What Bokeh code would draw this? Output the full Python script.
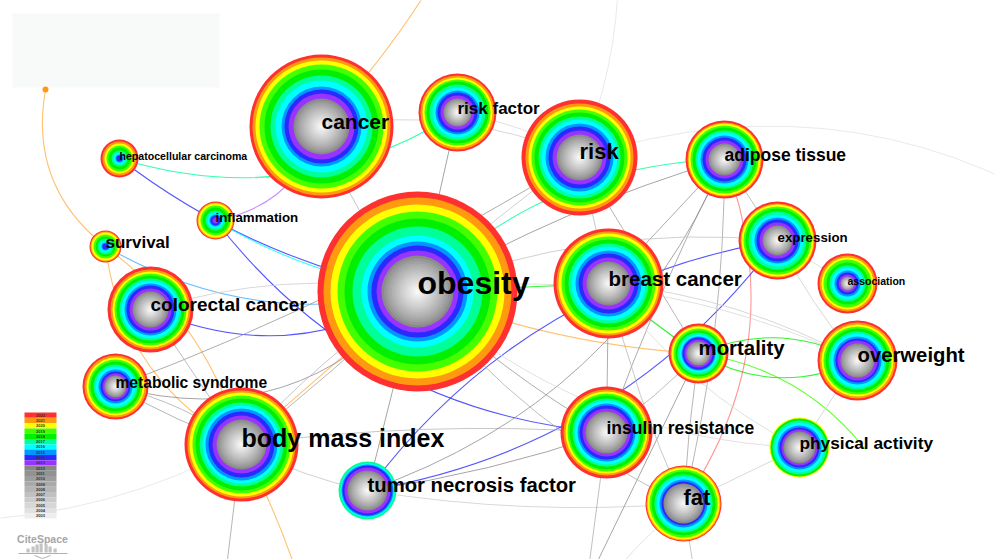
import math
from bokeh.plotting import figure
from bokeh.models import Range1d, ColumnDataSource
from bokeh.embed import file_html
from bokeh.resources import INLINE
from bokeh.core.properties import value

# ---------------- data ----------------
keywords = ["obesity", "cancer", "risk factor", "risk", "adipose tissue",
            "hepatocellular carcinoma", "inflammation", "survival", "colorectal cancer",
            "metabolic syndrome", "body mass index", "tumor necrosis factor", "breast cancer",
            "expression", "association", "mortality", "overweight", "insulin resistance",
            "physical activity", "fat"]
# network layout coordinates (CiteSpace layout space)
layout_x = [417, 321, 457, 579, 724, 119, 215, 105, 150, 115, 241, 367, 608, 777, 847, 698, 857, 606, 799, 683]
layout_y = [291, 126, 112, 157, 159, 158, 220, 246, 309, 386, 444, 490, 283, 240, 283, 353, 360, 432, 447, 503]

# yearly occurrence counts drawn as tree rings: [<=2012, 2013, 2014, ..., 2022]
ring_years = [2012, 2013, 2014, 2015, 2016, 2017, 2018, 2019, 2020, 2021, 2022]
yearly_counts = [
    [36, 5, 5, 4, 6, 9, 8, 7, 7, 7, 6],   # obesity
    [28, 5, 4, 3, 6, 5, 6, 5, 4, 3, 3],   # cancer
    [14, 3, 3, 2, 3, 3, 3, 2, 2, 2, 2],   # risk factor
    [23, 4, 4, 3, 4, 3, 4, 3, 3, 3, 4],   # risk
    [16, 3, 3, 2, 3, 2, 3, 2, 2, 1, 2],   # adipose tissue
    [0, 0, 3, 1, 2, 2, 3, 2, 2, 2, 2],    # hepatocellular carcinoma
    [0, 3, 2, 1, 2, 2, 3, 2, 2, 1, 1],    # inflammation
    [0, 0, 3, 1, 2, 2, 2, 2, 2, 1, 1],    # survival
    [18, 3, 3, 2, 3, 2, 3, 2, 2, 2, 3],   # colorectal cancer
    [11, 2, 2, 2, 3, 2, 3, 2, 2, 2, 2],   # metabolic syndrome
    [25, 4, 4, 3, 3, 3, 4, 3, 3, 2, 3],   # body mass index
    [20, 3, 2, 1, 1, 2, 0, 0, 0, 0, 0],   # tumor necrosis factor
    [22, 4, 4, 3, 4, 3, 4, 3, 3, 2, 3],   # breast cancer
    [15, 3, 3, 2, 3, 3, 3, 2, 2, 1, 2],   # expression
    [7, 2, 2, 2, 3, 2, 3, 3, 2, 2, 2],    # association
    [12, 2, 2, 1, 2, 2, 2, 2, 2, 1, 2],   # mortality
    [17, 3, 2, 2, 3, 2, 3, 2, 2, 2, 2],   # overweight
    [21, 3, 3, 2, 3, 2, 3, 2, 2, 2, 3],   # insulin resistance
    [16, 2, 2, 2, 3, 2, 2, 0, 1, 0, 0],   # physical activity
    [20, 0, 2, 2, 3, 2, 3, 2, 2, 1, 1],   # fat
]

legend_years = [2022, 2021, 2020, 2019, 2018, 2017, 2016, 2015, 2014, 2013,
                2012, 2011, 2010, 2009, 2008, 2007, 2006, 2005, 2004, 2003]

# endpoints of links that leave the visible window (plus the small seed node)
anchor_names = ["seed", "top_exit", "bmi_exit", "low_exit", "ins_exit", "fat_exit",
                "fat_exit2", "pa_end", "arc_right", "arc_top", "arc_left", "bmi_exit2"]
anchor_x = [45, 428, 305, 578, 584, 698, 590, 865, 1110, 618, -40, 222]
anchor_y = [89, -12, 600, 600, 600, 600, 600, 449, 240, -30, 520, 600]

edge_source = [
    "hepatocellular carcinoma", "cancer", "hepatocellular carcinoma", "inflammation",
    "inflammation", "colorectal cancer", "survival", "obesity", "obesity", "breast cancer",
    "mortality", "mortality", "mortality", "obesity", "adipose tissue",
    "tumor necrosis factor", "tumor necrosis factor", "survival", "survival", "seed",
    "body mass index", "body mass index", "cancer",
    # grey (older) links
    "risk factor", "adipose tissue", "adipose tissue", "adipose tissue", "adipose tissue",
    "adipose tissue", "risk", "risk", "risk", "metabolic syndrome", "metabolic syndrome",
    "metabolic syndrome", "metabolic syndrome", "colorectal cancer", "body mass index",
    "body mass index", "obesity", "tumor necrosis factor", "body mass index",
    "tumor necrosis factor", "tumor necrosis factor", "low_exit", "mortality",
    "insulin resistance", "insulin resistance", "fat", "fat", "physical activity",
    "overweight", "expression", "expression", "obesity", "obesity", "insulin resistance",
    "breast cancer", "obesity", "body mass index", "risk", "risk", "body mass index",
    "obesity", "obesity", "breast cancer", "cancer", "cancer", "risk factor",
    "colorectal cancer", "body mass index", "breast cancer",
]
edge_target = [
    "risk factor", "inflammation", "obesity", "obesity",
    "insulin resistance", "obesity", "obesity", "adipose tissue", "breast cancer", "mortality",
    "pa_end", "overweight", "overweight", "mortality", "fat",
    "expression", "expression", "body mass index", "body mass index", "survival",
    "obesity", "bmi_exit", "top_exit",
    "obesity", "obesity", "breast cancer", "insulin resistance", "fat",
    "expression", "mortality", "breast cancer", "obesity", "obesity", "risk",
    "body mass index", "body mass index", "body mass index", "obesity",
    "obesity", "tumor necrosis factor", "insulin resistance", "insulin resistance",
    "fat", "adipose tissue", "mortality", "fat",
    "breast cancer", "ins_exit", "fat_exit", "fat_exit2", "fat",
    "physical activity", "association", "overweight", "insulin resistance", "fat", "mortality",
    "fat", "expression", "bmi_exit2", "arc_right", "arc_top", "arc_left",
    "physical activity", "overweight", "overweight", "risk", "obesity", "risk",
    "obesity", "tumor necrosis factor", "physical activity",
]
edge_year = [
    2017, 2013, 2014, 2016,
    2014, 2014, 2015, 2017, 2018, 2018,
    2019, 2018, 2018, 2021, 2022,
    2014, 2014, 2021, 2021, 2021,
    2021, 2021, 2021,
    2012, 2012, 2011, 2011, 2010,
    2009, 2010, 2008, 2007, 2012, 2011,
    2010, 2009, 2009, 2010,
    2008, 2012, 2012, 2008,
    2006, 2012, 2012, 2010,
    2011, 2009, 2008, 2005, 2006,
    2006, 2005, 2006, 2011, 2009, 2009,
    2008, 2007, 2010, 2004, 2004, 2004,
    2005, 2005, 2006, 2006, 2008, 2005,
    2006, 2007, 2005,
]

# ---------------- layout / styling ----------------
edge_bend = [
    0.23, -0.30, 0.12, 0.10,
    0.22, 0.26, 0.20, -0.20, 0.0, 0.05,
    -0.20, -0.24, 0.26, 0.08, -0.26,
    -0.20, 0.20, 0.26, -0.17, 0.30,
    0.0, -0.05, 0.05,
    0.0, 0.06, 0.0, 0.03, -0.06,
    0.0, 0.0, 0.0, 0.05, 0.32, 0.05,
    0.05, -0.10, 0.0, 0.03,
    -0.06, 0.0, 0.05, -0.05,
    0.06, 0.22, 0.0, 0.02,
    0.0, 0.0, 0.0, 0.05, 0.0,
    0.0, 0.0, 0.05, 0.06, 0.12, 0.05,
    0.05, -0.12, 0.0, -0.25, 0.10, -0.12,
    0.18, -0.15, -0.10, -0.15, 0.10, -0.10,
    -0.12, 0.08, 0.12,
]
label_px = [32, 21, 17, 22, 17.5, 10.6, 13.3, 17, 19, 15.6, 25, 20.3, 20.5, 13.3, 10.5,
            20.4, 20.3, 17.5, 17.3, 22]
edge_alpha_by_year = {2022: 0.5, 2021: 0.6, 2013: 0.55, 2015: 0.6}

year_color = {
    2022: "#ff3030", 2021: "#ff9a10", 2020: "#ffff00", 2019: "#44ff00", 2018: "#00f000",
    2017: "#00ff99", 2016: "#00ffff", 2015: "#0095ff", 2014: "#2a2aff", 2013: "#9933ff",
}
grey_years = list(range(2012, 2002, -1))
for i, yr in enumerate(grey_years):
    g = int(135 + (238 - 135) * i / 9)
    year_color[yr] = "#%02x%02x%02x" % (g, g, g)

W, H = 995, 559
p = figure(width=W, height=H, x_range=Range1d(0, W), y_range=Range1d(H, 0),
           output_backend="svg", toolbar_location=None,
           x_axis_location=None, y_axis_location=None,
           min_border=0, min_border_left=0, min_border_right=0,
           min_border_top=0, min_border_bottom=0)
p.grid.visible = False
p.outline_line_color = None
p.background_fill_color = "white"
p.border_fill_color = "white"

pos = {k: (x, y) for k, x, y in zip(keywords, layout_x, layout_y)}
for k, x, y in zip(anchor_names, anchor_x, anchor_y):
    pos[k] = (x, y)

# info panel (blank) in the upper left
p.quad(left=12, right=219, top=13, bottom=87, fill_color="#f8f9f9", line_color=None)

# ---- links ----
ex0, ey0, ex1, ey1, ecx, ecy, ecol, ealpha, ew = [], [], [], [], [], [], [], [], []
for s, t, yr, b in zip(edge_source, edge_target, edge_year, edge_bend):
    x0, y0 = pos[s]
    x1, y1 = pos[t]
    dx, dy = x1 - x0, y1 - y0
    L = math.hypot(dx, dy)
    px, py = -dy / L, dx / L
    mx, my = (x0 + x1) / 2, (y0 + y1) / 2
    ex0.append(x0); ey0.append(y0); ex1.append(x1); ey1.append(y1)
    ecx.append(mx + b * L * px); ecy.append(my + b * L * py)
    ecol.append(year_color[yr])
    ealpha.append(edge_alpha_by_year.get(yr, 0.8 if yr >= 2013 else 0.75))
    ew.append(1.1 if yr >= 2013 else 1.0)
esrc = ColumnDataSource(dict(x0=ex0, y0=ey0, x1=ex1, y1=ey1, cx=ecx, cy=ecy,
                             c=ecol, a=ealpha, w=ew))
p.quadratic(x0="x0", y0="y0", x1="x1", y1="y1", cx="cx", cy="cy", line_color="c",
            line_alpha="a", line_width="w", source=esrc)

# seed node
p.scatter(x=[pos["seed"][0]], y=[pos["seed"][1]], size=6, fill_color="#ff9a10",
          line_color=None)

# ---- nodes as citation tree rings ----
cx_, cy_, cr_, cc_ = [], [], [], []
for k, x, y, counts in zip(keywords, layout_x, layout_y, yearly_counts):
    radii = []
    acc = 0
    for c in counts:
        acc += c
        radii.append(acc)
    for j in range(len(counts) - 1, 0, -1):
        if counts[j] > 0:
            cx_.append(x); cy_.append(y); cr_.append(radii[j])
            cc_.append(year_color[ring_years[j]])
    r0 = radii[0]
    if r0 > 0:
        n = 14
        for j in range(n):
            f = j / (n - 1)
            g = int(138 + (247 - 138) * (f ** 0.85))
            cx_.append(x); cy_.append(y); cr_.append(r0 * (1 - j / n))
            cc_.append("#%02x%02x%02x" % (g, g, g))
nsrc = ColumnDataSource(dict(x=cx_, y=cy_, r=cr_, c=cc_))
p.circle(x="x", y="y", radius="r", fill_color="c", line_color=None, source=nsrc)

# ---- labels ----
lsrc = ColumnDataSource(dict(
    x=layout_x,
    y=[y - 0.26 * s for y, s in zip(layout_y, label_px)],
    t=keywords,
    fs=["%.1fpx" % s for s in label_px]))
p.text(x="x", y="y", text="t", text_font_size="fs", text_font=value("Liberation Sans"),
       text_font_style="bold", text_color="black", text_baseline="middle",
       text_align="left", source=lsrc)

# ---- year colour legend ----
lg_top, lg_h = 412, 5.3
lg_t = [lg_top + i * lg_h for i in range(len(legend_years))]
lg_b = [t + lg_h for t in lg_t]
lg_c = [year_color[y] for y in legend_years]
p.quad(left=24, right=56, top=lg_t, bottom=lg_b, fill_color=lg_c, line_color=None)
p.text(x=[40] * len(legend_years), y=[t + lg_h / 2 for t in lg_t],
       text=[str(y) for y in legend_years], text_font_size="4px",
       text_font=value("Liberation Sans"), text_font_style="bold", text_color="#333333",
       text_align="center", text_baseline="middle")

# ---- CiteSpace logo ----
p.text(x=[42], y=[538], text=["CiteSpace"], text_font_size="10.5px",
       text_font=value("Liberation Sans"), text_font_style="bold", text_color="#a6a6a6",
       text_align="center", text_baseline="middle")
bar_l = [26, 31, 35, 39, 44, 48, 53]
bar_h = [4, 6, 8, 9, 8, 6, 4]
p.quad(left=bar_l, right=[b + 3.2 for b in bar_l], top=[552 - h for h in bar_h],
       bottom=[552] * len(bar_l), fill_color="#c4c4c4", line_color=None)
p.segment(x0=[18], y0=[553], x1=[67], y1=[553], line_color="#b0b0b0", line_width=1)
p.segment(x0=[34, 42], y0=[555, 558], x1=[42, 50], y1=[558, 555], line_color="#b0b0b0",
          line_width=1)

open("out.html", "w").write(file_html(p, INLINE))
